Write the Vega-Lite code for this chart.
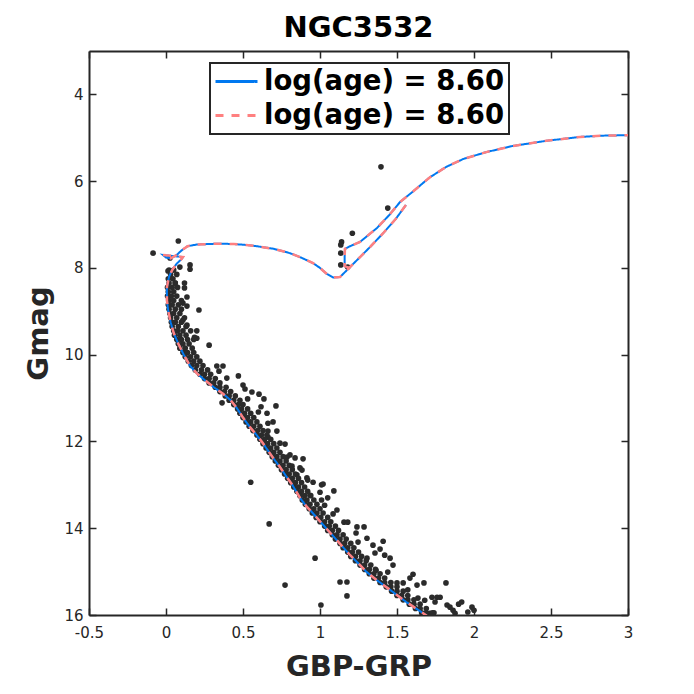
{
  "$schema": "https://vega.github.io/schema/vega-lite/v6.json",
  "width": 539,
  "height": 564,
  "autosize": {"type": "none"},
  "padding": {"left": 89, "top": 51, "right": 66, "bottom": 79},
  "background": "white",
  "title": {"text": "NGC3532", "fontSize": 29, "fontWeight": "bold", "font": "DejaVu Sans", "color": "#000000", "offset": 7, "anchor": "middle", "frame": "group"},
  "config": {
    "view": {"stroke": null},
    "axis": {"grid": false, "labelFlush": false, "domainColor": "#262626", "domainWidth": 2, "tickColor": "#262626", "tickWidth": 1.5, "tickSize": -7, "labelFont": "DejaVu Sans", "labelFontSize": 15, "labelColor": "#262626", "titleFont": "DejaVu Sans", "titleFontWeight": "bold", "titleFontSize": 29, "titleColor": "#262626"}
  },
  "datasets": {
    "stars": [
      {"c":1.396,"g":5.67},{"c":1.44,"g":6.62},{"c":1.21,"g":7.2},{"c":1.14,"g":7.4},{"c":1.135,"g":7.47},{"c":1.135,"g":7.66},{"c":1.135,"g":7.93},{"c":1.18,"g":7.98},
      {"c":0.08,"g":7.38},{"c":-0.084,"g":7.66},{"c":0.026,"g":7.77},{"c":0.156,"g":7.93},{"c":0.156,"g":8.03},{"c":0.09,"g":7.98},{"c":0.013,"g":8.07},{"c":0.12,"g":8.35},{"c":0.12,"g":8.46},{"c":0.06,"g":8.35},{"c":0.136,"g":8.67},{"c":0.214,"g":8.97},{"c":0.11,"g":8.81},{"c":0.136,"g":8.88},{"c":0.11,"g":9.2},{"c":0.136,"g":9.32},{"c":0.2,"g":9.45},{"c":0.2,"g":9.62},{"c":0.185,"g":9.6},{"c":0.28,"g":9.78},
      {"c":0.33,"g":10.26},{"c":0.37,"g":10.26},{"c":0.344,"g":10.38},{"c":0.395,"g":10.54},{"c":0.47,"g":10.49},{"c":0.5,"g":10.7},{"c":0.513,"g":10.79},{"c":0.558,"g":10.86},{"c":0.604,"g":10.91},{"c":0.636,"g":11.02},{"c":0.53,"g":11.02},{"c":0.714,"g":11.18},{"c":0.617,"g":11.2},{"c":0.6,"g":11.32},{"c":0.656,"g":11.35},{"c":0.695,"g":11.55},{"c":0.662,"g":11.58},{"c":0.662,"g":11.76},{"c":0.72,"g":11.76},{"c":0.662,"g":11.9},{"c":0.74,"g":12.04},{"c":0.773,"g":12.06},{"c":0.786,"g":12.36},{"c":0.838,"g":12.38},{"c":0.89,"g":12.4},{"c":0.818,"g":12.57},{"c":0.883,"g":12.66},{"c":0.915,"g":12.84},{"c":0.955,"g":12.94},{"c":1.01,"g":13.0},{"c":1.09,"g":13.14},{"c":0.55,"g":12.94},{"c":0.364,"g":11.11},
      {"c":0.67,"g":13.9},{"c":0.773,"g":15.31},{"c":0.968,"g":14.69},{"c":1.006,"g":15.77},{"c":1.13,"g":15.24},{"c":1.175,"g":15.24},{"c":1.175,"g":15.56},{"c":0.805,"g":12.31},{"c":0.87,"g":12.61},{"c":0.85,"g":12.77},{"c":0.92,"g":12.89},{"c":1.02,"g":12.98},{"c":1.0,"g":13.17},{"c":0.935,"g":13.24},{"c":1.01,"g":13.35},{"c":1.05,"g":13.3},{"c":1.03,"g":13.47},{"c":1.11,"g":13.58},{"c":1.085,"g":13.67},{"c":1.156,"g":13.86},{"c":1.18,"g":13.86},{"c":1.24,"g":13.97},{"c":1.286,"g":13.97},{"c":1.234,"g":14.11},{"c":1.305,"g":14.23},{"c":1.247,"g":14.32},{"c":1.344,"g":14.39},{"c":1.41,"g":14.3},{"c":1.39,"g":14.48},{"c":1.357,"g":14.57},{"c":1.305,"g":14.69},{"c":1.42,"g":14.62},{"c":1.455,"g":14.69},{"c":1.474,"g":14.85},{"c":1.44,"g":15.01},{"c":1.364,"g":14.97},{"c":1.5,"g":15.26},{"c":1.54,"g":15.26},{"c":1.584,"g":15.15},{"c":1.604,"g":15.06},{"c":1.675,"g":15.26},{"c":1.63,"g":15.31},{"c":1.57,"g":15.42},{"c":1.636,"g":15.61},{"c":1.68,"g":15.66},{"c":1.727,"g":15.59},{"c":1.76,"g":15.59},{"c":1.78,"g":15.59},{"c":1.747,"g":15.7},{"c":1.818,"g":15.26},{"c":1.825,"g":15.77},{"c":1.844,"g":15.82},{"c":1.864,"g":15.89},{"c":1.877,"g":15.96},{"c":1.92,"g":15.7},{"c":1.96,"g":15.93},{"c":1.987,"g":15.82},{"c":2.0,"g":15.89},{"c":1.714,"g":15.96},{"c":1.74,"g":15.95},{"c":1.9,"g":15.75},
      {"c":0.02,"g":8.05},{"c":0.05,"g":8.05},{"c":0.03,"g":8.15},{"c":0.07,"g":8.15},{"c":0.015,"g":8.25},{"c":0.045,"g":8.25},{"c":0.02,"g":8.35},{"c":0.06,"g":8.35},{"c":0.01,"g":8.45},{"c":0.04,"g":8.45},{"c":0.075,"g":8.45},{"c":0.015,"g":8.55},{"c":0.05,"g":8.55},{"c":0.01,"g":8.65},{"c":0.035,"g":8.65},{"c":0.07,"g":8.65},{"c":0.02,"g":8.75},{"c":0.05,"g":8.75},{"c":0.1,"g":8.75},{"c":0.015,"g":8.85},{"c":0.04,"g":8.85},{"c":0.08,"g":8.85},{"c":0.02,"g":8.95},{"c":0.06,"g":8.95},{"c":0.1,"g":8.95},{"c":0.025,"g":9.05},{"c":0.05,"g":9.05},{"c":0.09,"g":9.05},{"c":0.03,"g":9.15},{"c":0.07,"g":9.15},{"c":0.12,"g":9.15},{"c":0.035,"g":9.25},{"c":0.06,"g":9.25},{"c":0.1,"g":9.25},{"c":0.04,"g":9.35},{"c":0.08,"g":9.35},{"c":0.13,"g":9.35},{"c":0.05,"g":9.45},{"c":0.075,"g":9.45},{"c":0.11,"g":9.45},{"c":0.16,"g":9.45},{"c":0.055,"g":9.55},{"c":0.09,"g":9.55},{"c":0.13,"g":9.55},{"c":0.07,"g":9.65},{"c":0.1,"g":9.65},{"c":0.14,"g":9.65},{"c":0.18,"g":9.65},{"c":0.08,"g":9.75},{"c":0.11,"g":9.75},{"c":0.15,"g":9.75},{"c":0.09,"g":9.85},{"c":0.125,"g":9.85},{"c":0.17,"g":9.85},{"c":0.11,"g":9.95},{"c":0.14,"g":9.95},{"c":0.18,"g":9.95},{"c":0.125,"g":10.05},{"c":0.16,"g":10.05},{"c":0.2,"g":10.05},{"c":0.145,"g":10.15},{"c":0.18,"g":10.15},{"c":0.22,"g":10.15},{"c":0.165,"g":10.25},{"c":0.2,"g":10.25},{"c":0.24,"g":10.25},{"c":0.19,"g":10.35},{"c":0.23,"g":10.35},{"c":0.27,"g":10.35},{"c":0.22,"g":10.45},{"c":0.25,"g":10.45},{"c":0.29,"g":10.45},{"c":0.25,"g":10.55},{"c":0.28,"g":10.55},{"c":0.32,"g":10.55},{"c":0.28,"g":10.65},{"c":0.31,"g":10.65},{"c":0.35,"g":10.65},{"c":0.32,"g":10.75},{"c":0.35,"g":10.75},{"c":0.39,"g":10.75},{"c":0.35,"g":10.85},{"c":0.38,"g":10.85},{"c":0.42,"g":10.85},{"c":0.385,"g":10.95},{"c":0.41,"g":10.95},{"c":0.45,"g":10.95},{"c":0.41,"g":11.05},{"c":0.44,"g":11.05},{"c":0.48,"g":11.05},{"c":0.44,"g":11.15},{"c":0.47,"g":11.15},{"c":0.5,"g":11.15},{"c":0.465,"g":11.25},{"c":0.49,"g":11.25},{"c":0.53,"g":11.25},{"c":0.48,"g":11.35},{"c":0.51,"g":11.35},{"c":0.55,"g":11.35},{"c":0.5,"g":11.45},{"c":0.53,"g":11.45},{"c":0.57,"g":11.45},{"c":0.52,"g":11.55},{"c":0.55,"g":11.55},{"c":0.59,"g":11.55},{"c":0.54,"g":11.65},{"c":0.57,"g":11.65},{"c":0.61,"g":11.65},{"c":0.565,"g":11.75},{"c":0.595,"g":11.75},{"c":0.63,"g":11.75},{"c":0.59,"g":11.85},{"c":0.62,"g":11.85},{"c":0.655,"g":11.85},{"c":0.61,"g":11.95},{"c":0.64,"g":11.95},{"c":0.68,"g":11.95},{"c":0.63,"g":12.05},{"c":0.66,"g":12.05},{"c":0.7,"g":12.05},{"c":0.65,"g":12.15},{"c":0.68,"g":12.15},{"c":0.72,"g":12.15},{"c":0.67,"g":12.25},{"c":0.7,"g":12.25},{"c":0.74,"g":12.25},{"c":0.69,"g":12.35},{"c":0.72,"g":12.35},{"c":0.76,"g":12.35},{"c":0.71,"g":12.45},{"c":0.74,"g":12.45},{"c":0.78,"g":12.45},{"c":0.73,"g":12.55},{"c":0.76,"g":12.55},{"c":0.8,"g":12.55},{"c":0.75,"g":12.65},{"c":0.78,"g":12.65},{"c":0.82,"g":12.65},{"c":0.77,"g":12.75},{"c":0.8,"g":12.75},{"c":0.84,"g":12.75},{"c":0.79,"g":12.85},{"c":0.82,"g":12.85},{"c":0.86,"g":12.85},{"c":0.81,"g":12.95},{"c":0.84,"g":12.95},{"c":0.88,"g":12.95},{"c":0.83,"g":13.05},{"c":0.86,"g":13.05},{"c":0.9,"g":13.05},{"c":0.85,"g":13.15},{"c":0.88,"g":13.15},{"c":0.92,"g":13.15},{"c":0.87,"g":13.25},{"c":0.9,"g":13.25},{"c":0.94,"g":13.25},{"c":0.885,"g":13.35},{"c":0.915,"g":13.35},{"c":0.96,"g":13.35},{"c":0.905,"g":13.45},{"c":0.935,"g":13.45},{"c":0.98,"g":13.45},{"c":0.93,"g":13.55},{"c":0.96,"g":13.55},{"c":1.0,"g":13.55},{"c":0.95,"g":13.65},{"c":0.98,"g":13.65},{"c":1.02,"g":13.65},{"c":0.975,"g":13.75},{"c":1.005,"g":13.75},{"c":1.05,"g":13.75},{"c":1.0,"g":13.85},{"c":1.03,"g":13.85},{"c":1.07,"g":13.85},{"c":1.03,"g":13.95},{"c":1.06,"g":13.95},{"c":1.1,"g":13.95},{"c":1.05,"g":14.05},{"c":1.08,"g":14.05},{"c":1.12,"g":14.05},{"c":1.08,"g":14.15},{"c":1.11,"g":14.15},{"c":1.15,"g":14.15},{"c":1.1,"g":14.25},{"c":1.13,"g":14.25},{"c":1.17,"g":14.25},{"c":1.13,"g":14.35},{"c":1.16,"g":14.35},{"c":1.2,"g":14.35},{"c":1.15,"g":14.45},{"c":1.18,"g":14.45},{"c":1.22,"g":14.45},{"c":1.18,"g":14.55},{"c":1.21,"g":14.55},{"c":1.25,"g":14.55},{"c":1.2,"g":14.65},{"c":1.23,"g":14.65},{"c":1.27,"g":14.65},{"c":1.23,"g":14.75},{"c":1.26,"g":14.75},{"c":1.3,"g":14.75},{"c":1.26,"g":14.85},{"c":1.29,"g":14.85},{"c":1.33,"g":14.85},{"c":1.29,"g":14.95},{"c":1.32,"g":14.95},{"c":1.36,"g":14.95},{"c":1.32,"g":15.05},{"c":1.35,"g":15.05},{"c":1.39,"g":15.05},{"c":1.35,"g":15.15},{"c":1.38,"g":15.15},{"c":1.42,"g":15.15},{"c":1.39,"g":15.25},{"c":1.42,"g":15.25},{"c":1.46,"g":15.25},{"c":1.43,"g":15.35},{"c":1.46,"g":15.35},{"c":1.5,"g":15.35},{"c":1.465,"g":15.45},{"c":1.5,"g":15.45},{"c":1.54,"g":15.45},{"c":1.5,"g":15.55},{"c":1.53,"g":15.55},{"c":1.57,"g":15.55},{"c":1.54,"g":15.65},{"c":1.57,"g":15.65},{"c":1.61,"g":15.65},{"c":1.58,"g":15.75},{"c":1.61,"g":15.75},{"c":1.65,"g":15.75},{"c":1.62,"g":15.85},{"c":1.65,"g":15.85},{"c":1.69,"g":15.85},{"c":1.66,"g":15.95},{"c":1.69,"g":15.95},{"c":1.73,"g":15.95}
    ],
    "iso": [
      {"i":1,"seg":1,"c":1.705,"g":16.05},{"i":2,"seg":1,"c":1.67,"g":15.96},{"i":3,"seg":1,"c":1.56,"g":15.7},{"i":4,"seg":1,"c":1.455,"g":15.42},{"i":5,"seg":1,"c":1.37,"g":15.2},{"i":6,"seg":1,"c":1.3,"g":15.0},{"i":7,"seg":1,"c":1.26,"g":14.85},{"i":8,"seg":1,"c":1.19,"g":14.6},{"i":9,"seg":1,"c":1.14,"g":14.4},{"i":10,"seg":1,"c":1.09,"g":14.2},{"i":11,"seg":1,"c":1.04,"g":14.0},{"i":12,"seg":1,"c":0.99,"g":13.8},{"i":13,"seg":1,"c":0.94,"g":13.6},{"i":14,"seg":1,"c":0.915,"g":13.51},{"i":15,"seg":1,"c":0.87,"g":13.3},{"i":16,"seg":1,"c":0.82,"g":13.0},{"i":17,"seg":1,"c":0.78,"g":12.8},{"i":18,"seg":1,"c":0.74,"g":12.59},{"i":19,"seg":1,"c":0.7,"g":12.4},{"i":20,"seg":1,"c":0.66,"g":12.2},{"i":21,"seg":1,"c":0.625,"g":12.02},{"i":22,"seg":1,"c":0.59,"g":11.86},{"i":23,"seg":1,"c":0.545,"g":11.67},{"i":24,"seg":1,"c":0.5,"g":11.45},{"i":25,"seg":1,"c":0.46,"g":11.23},{"i":26,"seg":1,"c":0.42,"g":11.05},{"i":27,"seg":1,"c":0.37,"g":10.9},{"i":28,"seg":1,"c":0.31,"g":10.75},{"i":29,"seg":1,"c":0.25,"g":10.58},{"i":30,"seg":1,"c":0.2,"g":10.43},{"i":31,"seg":1,"c":0.155,"g":10.25},{"i":32,"seg":1,"c":0.115,"g":10.0},{"i":33,"seg":1,"c":0.08,"g":9.75},{"i":34,"seg":1,"c":0.05,"g":9.5},{"i":35,"seg":1,"c":0.03,"g":9.25},{"i":36,"seg":1,"c":0.015,"g":9.0},{"i":37,"seg":1,"c":0.006,"g":8.75},{"i":38,"seg":1,"c":0.006,"g":8.44},{"i":39,"seg":1,"c":0.02,"g":8.2},{"i":40,"seg":1,"c":0.04,"g":8.05},{"i":41,"seg":1,"c":0.07,"g":7.9},{"i":42,"seg":1,"c":0.1,"g":7.8},{"i":43,"seg":1,"c":0.11,"g":7.75},{"i":44,"seg":1,"c":0.06,"g":7.73},{"i":45,"seg":1,"c":0.0,"g":7.71},{"i":46,"seg":1,"c":-0.02,"g":7.7},{"i":47,"seg":1,"c":0.0,"g":7.76},{"i":48,"seg":1,"c":0.03,"g":7.78},{"i":49,"seg":1,"c":0.07,"g":7.7},{"i":50,"seg":1,"c":0.1,"g":7.6},{"i":51,"seg":1,"c":0.14,"g":7.5},{"i":52,"seg":1,"c":0.2,"g":7.46},{"i":53,"seg":1,"c":0.27,"g":7.45},{"i":54,"seg":1,"c":0.35,"g":7.44},{"i":55,"seg":1,"c":0.44,"g":7.45},{"i":56,"seg":1,"c":0.52,"g":7.47},{"i":57,"seg":1,"c":0.59,"g":7.5},{"i":58,"seg":1,"c":0.7,"g":7.56},{"i":59,"seg":1,"c":0.805,"g":7.66},{"i":60,"seg":1,"c":0.87,"g":7.75},{"i":61,"seg":1,"c":0.955,"g":7.89},{"i":62,"seg":1,"c":1.0,"g":8.0},{"i":63,"seg":1,"c":1.045,"g":8.14},{"i":64,"seg":1,"c":1.085,"g":8.22},{"i":65,"seg":1,"c":1.13,"g":8.21},{"i":66,"seg":1,"c":1.175,"g":8.05},{"i":67,"seg":1,"c":1.26,"g":7.75},{"i":68,"seg":1,"c":1.33,"g":7.5},{"i":69,"seg":1,"c":1.41,"g":7.2},{"i":70,"seg":1,"c":1.49,"g":6.88},{"i":71,"seg":1,"c":1.558,"g":6.55},
      {"i":72,"seg":2,"c":1.19,"g":8.0},{"i":73,"seg":2,"c":1.16,"g":7.96},{"i":74,"seg":2,"c":1.16,"g":7.75},{"i":75,"seg":2,"c":1.162,"g":7.56},{"i":76,"seg":2,"c":1.195,"g":7.5},{"i":77,"seg":2,"c":1.26,"g":7.4},{"i":78,"seg":2,"c":1.37,"g":7.08},{"i":79,"seg":2,"c":1.45,"g":6.78},{"i":80,"seg":2,"c":1.52,"g":6.48},{"i":81,"seg":2,"c":1.6,"g":6.25},{"i":82,"seg":2,"c":1.71,"g":5.92},{"i":83,"seg":2,"c":1.82,"g":5.67},{"i":84,"seg":2,"c":1.93,"g":5.49},{"i":85,"seg":2,"c":2.08,"g":5.33},{"i":86,"seg":2,"c":2.25,"g":5.19},{"i":87,"seg":2,"c":2.47,"g":5.07},{"i":88,"seg":2,"c":2.69,"g":4.98},{"i":89,"seg":2,"c":2.85,"g":4.95},{"i":90,"seg":2,"c":3.0,"g":4.94}
    ]
  },
  "layer": [
    {
      "data": {"name": "stars"},
      "mark": {"type": "circle", "size": 32, "color": "#2b2b2b", "opacity": 1},
      "encoding": {
        "x": {"field": "c", "type": "quantitative", "scale": {"domain": [-0.5, 3], "nice": false, "zero": false},
          "axis": {"orient": "bottom", "values": [-0.5, 0, 0.5, 1, 1.5, 2, 2.5, 3], "format": "~g", "labelExpr": "replace(datum.label, '−', '-')", "labelPadding": 17, "title": "GBP-GRP", "titlePadding": 12}},
        "y": {"field": "g", "type": "quantitative", "scale": {"domain": [3, 16], "reverse": true, "nice": false, "zero": false},
          "axis": {"orient": "left", "values": [4, 6, 8, 10, 12, 14, 16], "labelPadding": 13, "title": "Gmag", "titlePadding": 10}}
      }
    },
    {
      "data": {"name": "iso"},
      "mark": {"type": "line", "strokeWidth": 2, "clip": true},
      "encoding": {
        "x": {"field": "c", "type": "quantitative", "axis": {"orient": "top", "values": [-0.5, 0, 0.5, 1, 1.5, 2, 2.5, 3], "labels": false, "title": null}},
        "y": {"field": "g", "type": "quantitative", "axis": {"orient": "right", "values": [4, 6, 8, 10, 12, 14, 16], "labels": false, "title": null}},
        "detail": {"field": "seg", "type": "nominal"},
        "order": {"field": "i", "type": "quantitative"},
        "color": {"datum": "a", "scale": {"domain": ["a", "b"], "range": ["#0078F0", "#FF8080"]},
          "legend": {"title": null, "orient": "none", "legendX": 121, "legendY": 12, "direction": "vertical", "labelExpr": "'log(age) = 8.60'", "fillColor": "white", "strokeColor": "#262626", "padding": 4, "labelFont": "DejaVu Sans", "labelFontSize": 27.5, "labelFontWeight": "bold", "labelColor": "#000000", "symbolType": "stroke", "symbolSize": 1764, "symbolStrokeWidth": 3, "labelOffset": 5, "rowPadding": 5, "clipHeight": 29, "labelLimit": 400,
            "encode": {"legend": {"update": {"strokeWidth": {"value": 2}}}}}},
        "strokeDash": {"datum": "a", "scale": {"domain": ["a", "b"], "range": [[1, 0], [8, 8]]}, "legend": null}
      }
    },
    {
      "data": {"name": "iso"},
      "mark": {"type": "line", "strokeWidth": 2.5, "clip": true},
      "encoding": {
        "x": {"field": "c", "type": "quantitative", "axis": null},
        "y": {"field": "g", "type": "quantitative", "axis": null},
        "detail": {"field": "seg", "type": "nominal"},
        "order": {"field": "i", "type": "quantitative"},
        "color": {"datum": "b"},
        "strokeDash": {"datum": "b"}
      }
    }
  ],
  "resolve": {"axis": {"x": "independent", "y": "independent"}}
}
